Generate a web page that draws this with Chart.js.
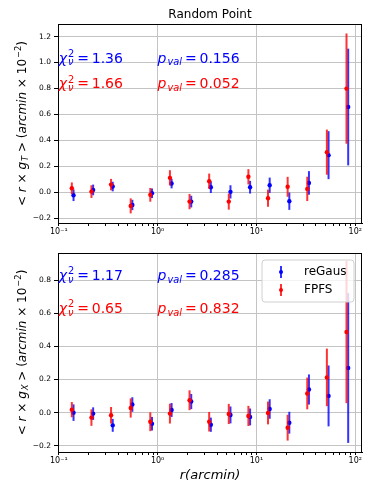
<!DOCTYPE html>
<html>
<head>
<meta charset="utf-8">
<script src="https://cdn.jsdelivr.net/npm/chart.js@4.4.1/dist/chart.umd.min.js"></script>
<style>
  body { margin: 0; background: #fff; }
  canvas { position: absolute; left: 0; }
</style>
</head>
<body>
<canvas id="chartT" width="374" height="240" style="top:0"></canvas>
<canvas id="chartX" width="374" height="258" style="top:240px"></canvas>
<script>
// radius bins (arcmin), FPFS slightly left, reGaus slightly right
const radiusFPFS   = [0.1355, 0.214, 0.338, 0.534, 0.843, 1.332, 2.104, 3.323, 5.248, 8.289, 13.09, 20.68, 32.66, 51.58, 81.47];
const radiusReGaus = [0.141, 0.2226, 0.3515, 0.555, 0.877, 1.385, 2.188, 3.456, 5.458, 8.62, 13.61, 21.5, 33.97, 53.64, 84.73];

// <r x gT>
const gtFPFS      = [0.031, 0.005, 0.059, -0.105, -0.020, 0.111, -0.072, 0.085, -0.072, 0.119, -0.046, 0.042, 0.026, 0.309, 0.799];
const gtFPFSErr   = [0.045, 0.049, 0.044, 0.058, 0.053, 0.059, 0.059, 0.059, 0.062, 0.059, 0.066, 0.077, 0.094, 0.174, 0.425];
const gtReGaus    = [-0.023, 0.018, 0.044, -0.098, -0.008, 0.067, -0.072, 0.039, 0.003, 0.039, 0.054, -0.069, 0.072, 0.286, 0.657];
const gtReGausErr = [0.045, 0.041, 0.037, 0.040, 0.037, 0.037, 0.045, 0.045, 0.051, 0.049, 0.059, 0.067, 0.091, 0.185, 0.450];

// <r x gX>
const gxFPFS      = [0.018, -0.030, -0.016, 0.028, -0.055, -0.006, 0.075, -0.055, -0.008, -0.020, -0.002, -0.091, 0.116, 0.213, 0.487];
const gxFPFSErr   = [0.046, 0.050, 0.050, 0.058, 0.057, 0.060, 0.060, 0.059, 0.061, 0.061, 0.069, 0.078, 0.096, 0.174, 0.430];
const gxReGaus    = [0.000, -0.006, -0.077, 0.049, -0.067, 0.016, 0.067, -0.073, -0.014, -0.026, 0.022, -0.061, 0.140, 0.101, 0.270];
const gxReGausErr = [0.050, 0.038, 0.039, 0.044, 0.041, 0.042, 0.046, 0.043, 0.051, 0.051, 0.059, 0.066, 0.091, 0.184, 0.453];

const yTicksT = [-0.2, 0, 0.2, 0.4, 0.6, 0.8, 1.0, 1.2];
const yTicksX = [-0.2, 0, 0.2, 0.4, 0.6, 0.8];
const xDecades = [0.1, 1, 10, 100];
const xDecadeLabels = ['10\u207B\u00B9', '10\u2070', '10\u00B9', '10\u00B2'];
const xMinorSteps = [2, 3, 4, 5, 6, 7, 8, 9];

const BLUE = '#0000ff', RED = '#ff0000';
const FONT = '"DejaVu Sans", sans-serif';

function fontOf(size, italic) {
  return (italic ? 'italic ' : '') + size + 'px ' + FONT;
}

// tiny mathtext-ish writer: {t, i} plain pieces, {sup, sub} scripts
function widthOf(ctx, parts, size) {
  let w = 0;
  parts.forEach(p => {
    if (p.t !== undefined) {
      ctx.font = fontOf(size, p.i);
      w += ctx.measureText(p.t).width;
    } else {
      const s = size * 0.7;
      let a = 0, b = 0;
      if (p.sup) { ctx.font = fontOf(s, p.supI); a = ctx.measureText(p.sup).width; }
      if (p.sub) { ctx.font = fontOf(s, p.subI); b = ctx.measureText(p.sub).width; }
      w += Math.max(a, b) + size * 0.08;
    }
  });
  return w;
}

function drawMath(ctx, parts, x, y, size, color) {
  ctx.fillStyle = color;
  ctx.textAlign = 'left';
  ctx.textBaseline = 'alphabetic';
  let cx = x;
  parts.forEach(p => {
    if (p.t !== undefined) {
      ctx.font = fontOf(size, p.i);
      ctx.fillText(p.t, cx, y);
      cx += ctx.measureText(p.t).width;
    } else {
      const s = size * 0.7;
      let a = 0, b = 0;
      if (p.sup) {
        ctx.font = fontOf(s, p.supI);
        ctx.fillText(p.sup, cx + 1, y - size * 0.42);
        a = ctx.measureText(p.sup).width;
      }
      if (p.sub) {
        ctx.font = fontOf(s, p.subI);
        ctx.fillText(p.sub, cx + 1, y + size * 0.2);
        b = ctx.measureText(p.sub).width;
      }
      cx += Math.max(a, b) + size * 0.08;
    }
  });
}

function chiText(val) {
  return [{ t: '\u03C7', i: true }, { sup: '2', sub: '\u03BD', subI: true }, { t: '\u2009=\u2009' + val }];
}
function pText(val) {
  return [{ t: 'p', i: true }, { sub: 'val', subI: true }, { t: '\u2009=\u2009' + val }];
}
function yTitle(comp) {
  return [
    { t: '< ' }, { t: 'r', i: true }, { t: ' \u00D7 ' }, { t: 'g', i: true },
    { sub: comp, subI: true }, { t: ' > (' }, { t: 'arcmin', i: true },
    { t: ' \u00D7 10' }, { sup: '\u22122' }, { t: ')' }
  ];
}

// error bars drawn under each dataset's points
const errorBars = {
  id: 'errorBars',
  beforeDatasetDraw(chart, args) {
    const ds = chart.data.datasets[args.index];
    if (!ds.yErr) return;
    const { ctx, chartArea, scales: { x, y } } = chart;
    ctx.save();
    ctx.beginPath();
    ctx.rect(chartArea.left, chartArea.top, chartArea.right - chartArea.left, chartArea.bottom - chartArea.top);
    ctx.clip();
    ctx.strokeStyle = ds.backgroundColor;
    ctx.globalAlpha = 0.8;
    ctx.lineWidth = 2;
    ds.data.forEach((p, i) => {
      const px = x.getPixelForValue(p.x);
      ctx.beginPath();
      ctx.moveTo(px, y.getPixelForValue(p.y - ds.yErr[i]));
      ctx.lineTo(px, y.getPixelForValue(p.y + ds.yErr[i]));
      ctx.stroke();
    });
    ctx.restore();
  }
};

// frame, annotations, axis titles, legend
const decorations = {
  id: 'decorations',
  afterDraw(chart) {
    const o = chart.options.plugins.decorations;
    const { ctx, chartArea: a, scales: { x, y } } = chart;
    ctx.save();
    ctx.strokeStyle = '#000';
    ctx.lineWidth = 1;
    ctx.strokeRect(a.left + 0.5, a.top + 0.5, a.right - a.left - 1, a.bottom - a.top);

    o.notes.forEach(n => {
      drawMath(ctx, n.parts, x.getPixelForValue(n.x), y.getPixelForValue(n.y), 14, n.color);
    });

    // rotated y title
    const w = widthOf(ctx, o.yTitle, 12);
    ctx.save();
    ctx.translate(26, (a.top + a.bottom) / 2);
    ctx.rotate(-Math.PI / 2);
    drawMath(ctx, o.yTitle, -w / 2, 0, 12, '#000');
    ctx.restore();

    if (o.title) {
      ctx.font = fontOf(12, false);
      ctx.fillStyle = '#000';
      ctx.textAlign = 'center';
      ctx.textBaseline = 'middle';
      ctx.fillText(o.title, (a.left + a.right) / 2, 15);
    }

    if (o.xTitle) {
      ctx.font = fontOf(13, true);
      ctx.fillStyle = '#000';
      ctx.textAlign = 'center';
      ctx.textBaseline = 'middle';
      ctx.fillText(o.xTitle, (a.left + a.right) / 2, a.bottom + 24);
    }

    if (o.legend) {
      const lx = 262, ly = a.top + 7, lw = 92, lh = 42;
      ctx.beginPath();
      ctx.roundRect(lx, ly, lw, lh, 3);
      ctx.fillStyle = 'rgba(255,255,255,0.8)';
      ctx.fill();
      ctx.strokeStyle = '#d0d0d0';
      ctx.stroke();
      o.legend.forEach((item, k) => {
        const cy = ly + 12 + k * 18;
        ctx.strokeStyle = item.color;
        ctx.globalAlpha = 0.8;
        ctx.lineWidth = 2;
        ctx.beginPath();
        ctx.moveTo(lx + 19, cy - 6);
        ctx.lineTo(lx + 19, cy + 6);
        ctx.stroke();
        ctx.globalAlpha = 1;
        ctx.fillStyle = item.color;
        ctx.beginPath();
        ctx.arc(lx + 19, cy, 2, 0, Math.PI * 2);
        ctx.fill();
        ctx.fillStyle = '#000';
        ctx.font = fontOf(12, false);
        ctx.textAlign = 'left';
        ctx.textBaseline = 'middle';
        ctx.fillText(item.label, lx + 42, cy);
      });
    }
    ctx.restore();
  }
};

function isDecade(v) {
  const l = Math.log10(v);
  return Math.abs(l - Math.round(l)) < 1e-9;
}

function makeChart(id, fpfs, fpfsErr, regaus, regausErr, yTicks, yMin, yMax, pad, xAxisH, deco) {
  const xTicks = [];
  xDecades.forEach(d => {
    xTicks.push(d);
    if (d < 100) xMinorSteps.forEach(m => xTicks.push(m * d));
  });
  return new Chart(document.getElementById(id), {
    type: 'scatter',
    data: {
      datasets: [
        {
          label: 'FPFS', order: 1,
          data: radiusFPFS.map((r, i) => ({ x: r, y: fpfs[i] })),
          yErr: fpfsErr,
          backgroundColor: RED, borderWidth: 0, pointRadius: 2.2
        },
        {
          label: 'reGaus', order: 2,
          data: radiusReGaus.map((r, i) => ({ x: r, y: regaus[i] })),
          yErr: regausErr,
          backgroundColor: BLUE, borderWidth: 0, pointRadius: 2.2
        }
      ]
    },
    options: {
      responsive: false,
      animation: false,
      events: [],
      devicePixelRatio: 1,
      layout: { padding: { left: 0, right: 12, top: pad, bottom: 0 } },
      plugins: { legend: { display: false }, tooltip: { enabled: false }, decorations: deco },
      scales: {
        x: {
          type: 'logarithmic',
          min: 0.0982, max: 116.9,
          afterBuildTicks: s => { s.ticks = xTicks.map(v => ({ value: v, major: isDecade(v) })); },
          afterFit: s => { s.height = xAxisH; },
          ticks: {
            autoSkip: false, maxRotation: 0, padding: 1,
            color: '#000', font: { family: FONT, size: 8 },
            callback: v => isDecade(v) ? xDecadeLabels[xDecades.findIndex(d => Math.abs(d - v) < 1e-9)] : ''
          },
          grid: {
            color: c => (c.tick && isDecade(c.tick.value)) ? '#c4c4c4' : 'rgba(0,0,0,0)',
            tickColor: '#000', tickLength: 3, lineWidth: 1
          },
          border: { display: true, color: '#000', width: 1 }
        },
        y: {
          type: 'linear',
          min: yMin, max: yMax,
          afterBuildTicks: s => { s.ticks = yTicks.map(v => ({ value: v })); },
          afterFit: s => { s.width = 58; },
          ticks: {
            padding: 3, color: '#000', font: { family: FONT, size: 7.5 },
            callback: v => (v < 0 ? '\u2212' : '') + Math.abs(v).toFixed(1)
          },
          grid: { color: '#c4c4c4', tickColor: '#000', tickLength: 4, lineWidth: 1 },
          border: { display: true, color: '#000', width: 1 }
        }
      }
    },
    plugins: [errorBars, decorations]
  });
}

makeChart('chartT', gtFPFS, gtFPFSErr, gtReGaus, gtReGausErr, yTicksT, -0.237, 1.297, 24, 17, {
  title: 'Random Point',
  yTitle: yTitle('T'),
  notes: [
    { parts: chiText('1.36'), x: 0.1, y: 1.0, color: BLUE },
    { parts: pText('0.156'), x: 1, y: 1.0, color: BLUE },
    { parts: chiText('1.66'), x: 0.1, y: 0.8, color: RED },
    { parts: pText('0.052'), x: 1, y: 0.8, color: RED }
  ]
});

makeChart('chartX', gxFPFS, gxFPFSErr, gxReGaus, gxReGausErr, yTicksX, -0.238, 0.965, 13, 46, {
  yTitle: yTitle('X'),
  xTitle: 'r(arcmin)',
  notes: [
    { parts: chiText('1.17'), x: 0.1, y: 0.8, color: BLUE },
    { parts: pText('0.285'), x: 1, y: 0.8, color: BLUE },
    { parts: chiText('0.65'), x: 0.1, y: 0.6, color: RED },
    { parts: pText('0.832'), x: 1, y: 0.6, color: RED }
  ],
  legend: [
    { label: 'reGaus', color: BLUE },
    { label: 'FPFS', color: RED }
  ]
});
</script>
</body>
</html>
